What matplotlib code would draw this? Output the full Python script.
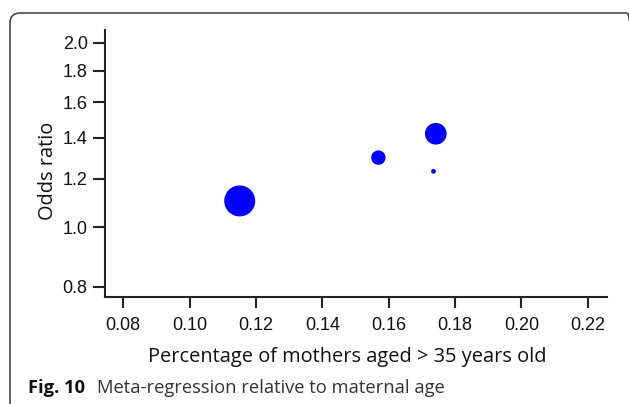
import matplotlib
matplotlib.use("Agg")
import matplotlib.pyplot as plt
from matplotlib.patches import FancyBboxPatch
from matplotlib.ticker import FixedLocator, NullLocator

# ---- data ----
pct_mothers_over35 = [0.1151, 0.1569, 0.1742, 0.1735]
odds_ratio = [1.104, 1.299, 1.421, 1.234]
study_weight = [498, 108, 244, 12]   # bubble area (weight)
x_ticks = [0.08, 0.10, 0.12, 0.14, 0.16, 0.18, 0.20, 0.22]
y_ticks = [0.8, 1.0, 1.2, 1.4, 1.6, 1.8, 2.0]
x_label = "Percentage of mothers aged > 35 years old"
y_label = "Odds ratio"
caption_bold = "Fig. 10"
caption_text = "Meta-regression relative to maternal age"

W, H = 629, 404
DPI = 100
fig = plt.figure(figsize=(W / DPI, H / DPI), dpi=DPI)
fig.patch.set_facecolor("white")

# outer rounded frame (display pixel coordinates), partly cut off at right/bottom
frame = FancyBboxPatch((10, -7), 627, 398, boxstyle="round,pad=0,rounding_size=10",
                       transform=None, fill=False, edgecolor="#3a3a3a", linewidth=1.1,
                       clip_on=False)
fig.patches.append(frame)

ax = fig.add_axes([105 / W, 1 - 297 / H, (607 - 105) / W, (297 - 30) / H])
ax.scatter(pct_mothers_over35, odds_ratio, s=study_weight, color="#0000ff",
           edgecolors="none", zorder=3)

ax.set_yscale("log")
ax.set_xlim(0.0745, 0.2258)
ax.set_ylim(0.7696, 2.098)

ax.xaxis.set_major_locator(FixedLocator(x_ticks))
ax.yaxis.set_major_locator(FixedLocator(y_ticks))
ax.yaxis.set_minor_locator(NullLocator())
ax.xaxis.set_minor_locator(NullLocator())
ax.set_xticklabels([f"{v:.2f}" for v in x_ticks])
ax.set_yticklabels([f"{v:.1f}" for v in y_ticks])

for s in ["top", "right"]:
    ax.spines[s].set_visible(False)
for s in ["left", "bottom"]:
    ax.spines[s].set_linewidth(1.5)
    ax.spines[s].set_color("#222222")

tick_font = dict(family=["Liberation Sans", "DejaVu Sans"], size=13)
ax.tick_params(axis="x", direction="out", length=8, width=1.5, color="#222222", pad=6.5)
ax.tick_params(axis="y", direction="out", length=8.5, width=1.5, color="#222222", pad=4)
for lab in ax.get_xticklabels() + ax.get_yticklabels():
    lab.set_fontfamily(tick_font["family"])
    lab.set_fontsize(tick_font["size"])
    lab.set_color("#111111")

label_font = ["Open Sans", "DejaVu Sans"]
fig.text(347.5 / W, 1 - 362 / H, x_label, ha="center", va="baseline",
         fontsize=14.4, family=label_font, color="#111111")
fig.text(53 / W, 1 - 171 / H, y_label, ha="center", va="baseline", rotation=90,
         rotation_mode="anchor", fontsize=14.4, family=label_font, color="#111111")

fig.text(28 / W, 1 - 393 / H, caption_bold, ha="left", va="baseline",
         fontsize=13.2, family=label_font, fontweight="bold", color="#111111")
fig.text(97 / W, 1 - 393 / H, caption_text, ha="left", va="baseline",
         fontsize=13.2, family=label_font, color="#333333")

fig.savefig("out.png", dpi=DPI, facecolor="white")
